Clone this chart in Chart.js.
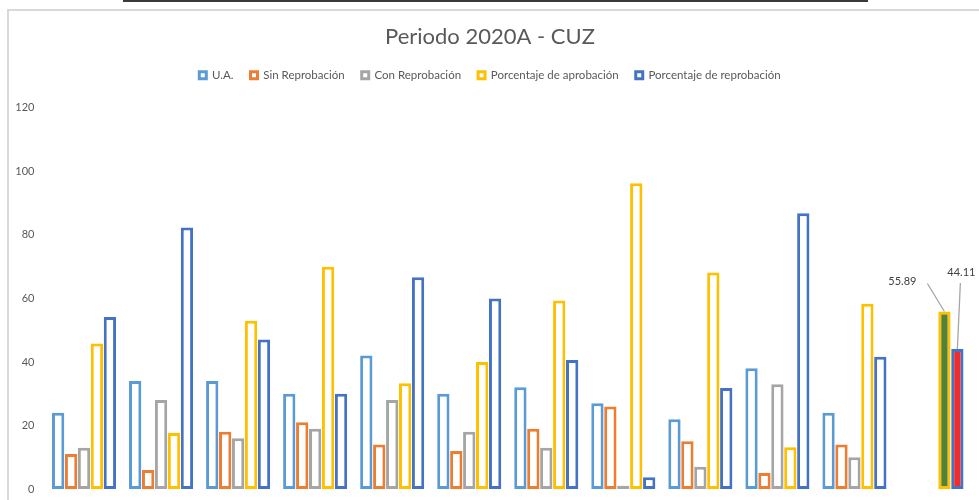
<!DOCTYPE html>
<html>
<head>
<meta charset="utf-8">
<script src="https://cdn.jsdelivr.net/npm/chart.js@4.4.0/dist/chart.umd.min.js"></script>
<style>
  html, body { margin: 0; padding: 0; background: #fff; }
  #wrap { position: relative; width: 979px; height: 500px; overflow: hidden; }
  #topLine { position: absolute; left: 123px; top: 0; width: 745px; height: 2px; background: #3a3a3a; }
  #frame { position: absolute; left: 7px; top: 9px; width: 1000px; height: 520px;
           border-left: 2px solid #d9d9d9; border-top: 2px solid #d9d9d9; pointer-events: none; }
  #chart { position: absolute; left: 0; top: 0; }
</style>
</head>
<body>
<div id="wrap">
  <div id="topLine"></div>
  <div id="frame"></div>
  <canvas id="chart" width="979" height="500"></canvas>
</div>
<script>
const categorias = ['1', '2', '3', '4', '5', '6', '7', '8', '9', '10', '11', 'Total'];
const ua     = [24, 34, 34, 30, 42, 30, 32, 27, 22, 38, 24, null];
const sinRep = [11, 6, 18, 21, 14, 12, 19, 26, 15, 5, 14, null];
const conRep = [13, 28, 16, 19, 28, 18, 13, 1, 7, 33, 10, null];
const porcAprob = [45.83, 17.65, 52.94, 70, 33.33, 40, 59.38, 96.3, 68.18, 13.16, 58.33, 55.89];
const porcReprob = [54.17, 82.35, 47.06, 30, 66.67, 60, 40.63, 3.7, 31.82, 86.84, 41.67, 44.11];
const yTicks = [0, 20, 40, 60, 80, 100, 120];

const FONT = 'Lato, "Open Sans", sans-serif';
const totalIdx = categorias.length - 1;

function serie(label, data, color, fillTotal) {
    return {
        label: label,
        data: data,
        borderColor: color,
        backgroundColor: ctx => (fillTotal && ctx.dataIndex === totalIdx) ? fillTotal : '#ffffff',
        borderWidth: 3,
        borderSkipped: false,
        categoryPercentage: 0.84,
        barPercentage: 0.95
    };
}

// etiquetas de la columna total con línea guía
const etiquetasTotal = {
    id: 'etiquetasTotal',
    afterDatasetsDraw(chart) {
        const ctx = chart.ctx;
        const offs = { 3: { dx: -42, dy: -30, lx: -17, ly: -28 }, 4: { dx: 4, dy: -76, lx: 3, ly: -66 } };
        ctx.save();
        ctx.font = '11px ' + FONT;
        ctx.fillStyle = '#404040';
        ctx.textAlign = 'center';
        ctx.textBaseline = 'middle';
        ctx.strokeStyle = '#a6a6a6';
        ctx.lineWidth = 1.3;
        [3, 4].forEach(di => {
            const bar = chart.getDatasetMeta(di).data[totalIdx];
            const o = offs[di];
            const v = chart.data.datasets[di].data[totalIdx];
            ctx.beginPath();
            ctx.moveTo(bar.x + o.lx, bar.y + o.ly);
            ctx.lineTo(bar.x, bar.y);
            ctx.stroke();
            ctx.fillText(v.toFixed(2), bar.x + o.dx, bar.y + o.dy);
        });
        ctx.restore();
    }
};

const legendaAlta = {
    id: 'legendaAlta',
    beforeInit(chart) {
        const fit = chart.legend.fit;
        chart.legend.fit = function () {
            fit.call(this);
            this.height += 17;
        };
    }
};

new Chart(document.getElementById('chart').getContext('2d'), {
    type: 'bar',
    data: {
        labels: categorias,
        datasets: [
            serie('U.A.', ua, '#5B9BD5'),
            serie('Sin Reprobación', sinRep, '#ED7D31'),
            serie('Con Reprobación', conRep, '#A5A5A5'),
            serie('Porcentaje de aprobación', porcAprob, '#FFC000', '#548235'),
            serie('Porcentaje de reprobación', porcReprob, '#4472C4', '#EE2D2D')
        ]
    },
    options: {
        responsive: false,
        animation: false,
        layout: { padding: { top: 10, left: 10, right: 9, bottom: 11 } },
        plugins: {
            title: {
                display: true,
                text: 'Periodo 2020A - CUZ',
                color: '#595959',
                font: { family: FONT, size: 22, weight: 'normal' },
                padding: { top: 14, bottom: 2 }
            },
            legend: {
                position: 'top',
                labels: {
                    color: '#595959',
                    font: { family: FONT, size: 11.5 },
                    boxWidth: 7,
                    boxHeight: 7,
                    padding: 17
                }
            },
            tooltip: { enabled: false }
        },
        scales: {
            x: {
                display: false
            },
            y: {
                min: 0,
                max: 120,
                afterBuildTicks: s => { s.ticks = yTicks.map(v => ({ value: v })); },
                afterFit: s => {
                    s.width = 35.5;
                    s.paddingTop = 0;
                    s.paddingBottom = 0;
                },
                grid: { display: false, drawTicks: false },
                border: { display: false },
                ticks: { color: '#595959', font: { family: FONT, size: 11 }, padding: 11 }
            }
        }
    },
    plugins: [legendaAlta, etiquetasTotal]
});
</script>
</body>
</html>
